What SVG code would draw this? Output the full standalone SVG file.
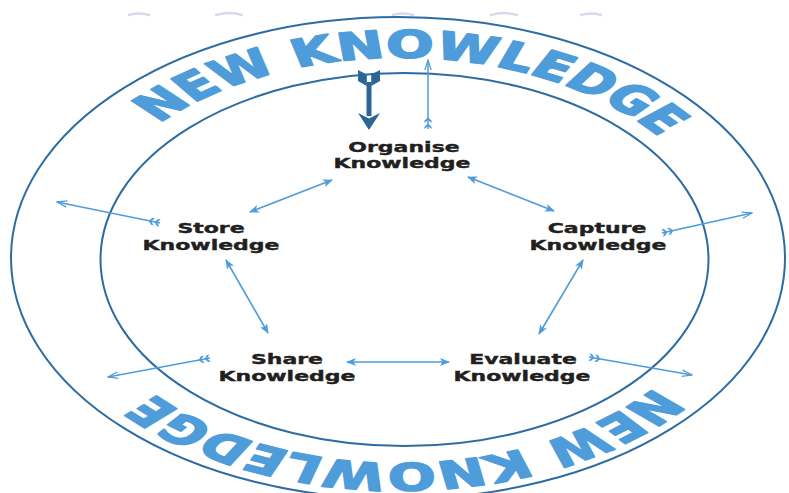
<svg xmlns="http://www.w3.org/2000/svg" width="789" height="493" viewBox="0 0 789 493">
  <defs>
    <style>
      .ring { fill: none; stroke: #2C6CA3; stroke-width: 2; }
      .big { font-family: "DejaVu Sans", "Liberation Sans", sans-serif; font-weight: bold; font-size: 61px; fill: #4E9CDA; stroke: #4E9CDA; stroke-width: 2.6; stroke-linejoin: round; }
      .lbl { font-family: "DejaVu Sans", "Liberation Sans", sans-serif; font-weight: bold; font-size: 22px; fill: #231F20; stroke: #231F20; stroke-width: 0.6; text-anchor: middle; }
      .link { fill: none; stroke: #4E9CDA; stroke-width: 1.6; marker-start: url(#head); marker-end: url(#head); }
      .out { fill: none; stroke: #4E9CDA; stroke-width: 1.5; marker-start: url(#fletch); marker-end: url(#openHead); }
      .haze { fill: none; stroke: #DCD7EE; stroke-width: 2.5; stroke-linecap: round; }
    </style>
    <marker id="head" markerUnits="userSpaceOnUse" viewBox="0 0 10 8" refX="9" refY="4" markerWidth="10" markerHeight="8" orient="auto-start-reverse">
      <path d="M0,0 L10,4 L0,8 L2.5,4 Z" fill="#4E9CDA"/>
    </marker>
    <marker id="openHead" markerUnits="userSpaceOnUse" viewBox="0 0 12 8" refX="11" refY="4" markerWidth="12" markerHeight="8" orient="auto">
      <path d="M1,0.8 L11,4 L1,7.2" fill="none" stroke="#4E9CDA" stroke-width="1.2"/>
    </marker>
    <!-- feathered tail: two small forward chevrons -->
    <marker id="fletch" markerUnits="userSpaceOnUse" viewBox="-1 -5 16 10" refX="0" refY="0" markerWidth="16" markerHeight="10" orient="auto">
      <path d="M0,-3.5 L2.5,-3.5 L5.5,0 L2.5,3.5 L0,3.5 L3,0 Z M6,-3.5 L8.5,-3.5 L11.5,0 L8.5,3.5 L6,3.5 L9,0 Z" fill="#4E9CDA"/>
    </marker>
    <!-- clockwise loop carrying the ring lettering (drawn inside the y-scaled group) -->
    <path id="textRing" d="M73,420 A327,327 0 1 1 727,420 A327,327 0 1 1 73,420"/>
  </defs>

  <!-- faint marks along the top edge -->
  <g id="top-marks">
    <path class="haze" d="M129,15 Q139,12 149,15"/>
    <path class="haze" d="M216,15 Q229,11 242,15"/>
    <path class="haze" d="M393,15 Q403,12 413,15"/>
    <path class="haze" d="M491,15 Q504,11 517,15"/>
    <path class="haze" d="M581,15 Q591,12 601,15"/>
  </g>

  <!-- rings -->
  <g id="rings">
    <ellipse class="ring" cx="398" cy="258" rx="387" ry="241"/>
    <ellipse class="ring" cx="404.5" cy="259.5" rx="304" ry="186.5"/>
  </g>

  <!-- ring lettering -->
  <g id="ring-text" transform="scale(1,0.62)">
    <text class="big"><textPath href="#textRing" startOffset="25.7%" text-anchor="middle" textLength="570" lengthAdjust="spacingAndGlyphs">NEW KNOWLEDGE</textPath></text>
    <text class="big"><textPath href="#textRing" startOffset="74.7%" text-anchor="middle" textLength="570" lengthAdjust="spacingAndGlyphs">NEW KNOWLEDGE</textPath></text>
  </g>

  <!-- connectors -->
  <g id="connectors">
    <line class="link" x1="332" y1="180" x2="250" y2="212"/>
    <line class="link" x1="468" y1="177" x2="554" y2="211"/>
    <line class="link" x1="226" y1="260" x2="268" y2="333"/>
    <line class="link" x1="583" y1="260" x2="539" y2="334"/>
    <line class="link" x1="347" y1="362" x2="449" y2="362"/>

    <line class="out" x1="428" y1="129" x2="428" y2="60"/>
    <line class="out" x1="160" y1="223" x2="57" y2="202"/>
    <line class="out" x1="662" y1="233" x2="752" y2="213"/>
    <line class="out" x1="210" y1="358" x2="108" y2="377"/>
    <line class="out" x1="589" y1="357" x2="692" y2="375"/>

    <!-- heavy inbound arrow -->
    <g id="inbound" fill="#2A6698">
      <rect x="366.5" y="82" width="5" height="34"/>
      <polygon points="358,70 366.8,74.5 366.8,86 358,81"/>
      <polygon points="371.2,74.5 380,70 380,81 371.2,86"/>
      <polygon points="358,113 369,118.5 380,113 369,130"/>
    </g>
  </g>

  <!-- nodes -->
  <g transform="scale(1,0.62)">
    <g id="organise"><text class="lbl" x="404" y="245">Organise</text><text class="lbl" x="402" y="271">Knowledge</text></g>
    <g id="store"><text class="lbl" x="211" y="376">Store</text><text class="lbl" x="211" y="403">Knowledge</text></g>
    <g id="capture"><text class="lbl" x="597" y="376">Capture</text><text class="lbl" x="598" y="403">Knowledge</text></g>
    <g id="share"><text class="lbl" x="287" y="587">Share</text><text class="lbl" x="287" y="614">Knowledge</text></g>
    <g id="evaluate"><text class="lbl" x="523" y="587">Evaluate</text><text class="lbl" x="522" y="614">Knowledge</text></g>
  </g>
</svg>
